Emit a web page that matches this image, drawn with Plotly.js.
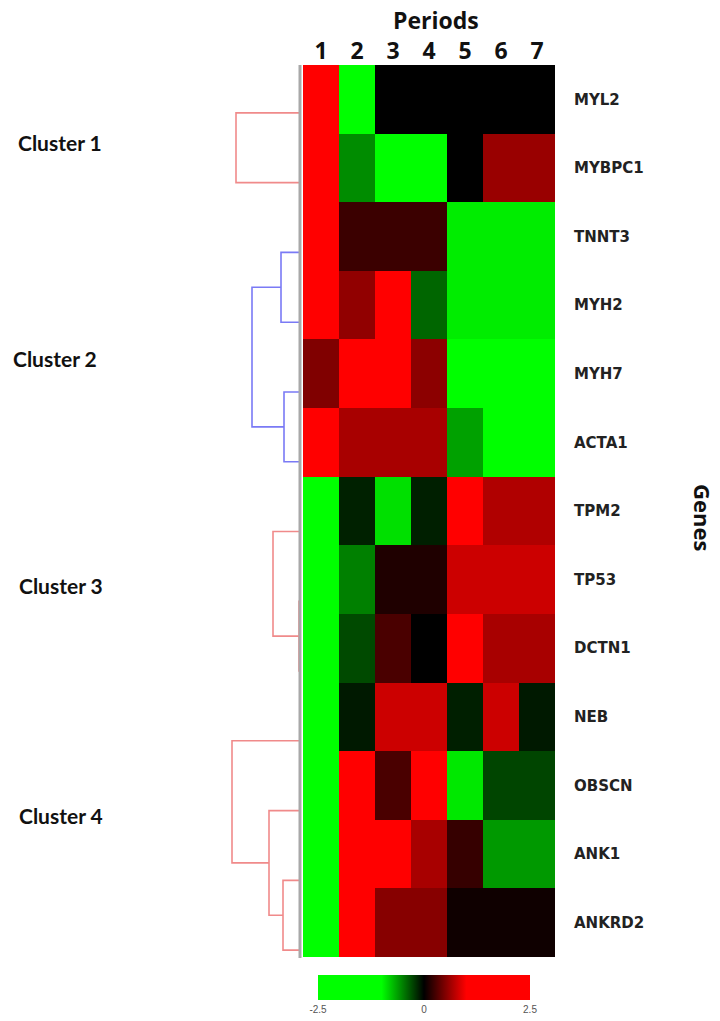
<!DOCTYPE html>
<html>
<head>
<meta charset="utf-8">
<script src="https://cdn.plot.ly/plotly-3.0.1.min.js"></script>
<style>html,body{margin:0;padding:0;background:#fff;}#chart{width:720px;height:1021px;}</style>
</head>
<body>
<div id="chart"></div>
<script>
// ---- data ----
const periods = [1, 2, 3, 4, 5, 6, 7];
const periodLabels = ['1', '2', '3', '4', '5', '6', '7'];
const genes = ['MYL2', 'MYBPC1', 'TNNT3', 'MYH2', 'MYH7', 'ACTA1', 'TPM2', 'TP53', 'DCTN1', 'NEB', 'OBSCN', 'ANK1', 'ANKRD2'];
const expr_MYL2   = [2.0, -2.0, 0.0, 0.0, 0.0, 0.0, 0.0];
const expr_MYBPC1 = [2.0, -0.55, -2.0, -2.0, 0.0, 0.6, 0.6];
const expr_TNNT3  = [2.0, 0.23, 0.23, 0.23, -0.93, -0.93, -0.93];
const expr_MYH2   = [2.0, 0.57, 2.0, -0.4, -0.93, -0.93, -0.93];
const expr_MYH7   = [0.5, 2.0, 2.0, 0.55, -2.0, -2.0, -2.0];
const expr_ACTA1  = [2.0, 0.66, 0.66, 0.66, -0.63, -2.0, -2.0];
const expr_TPM2   = [-2.0, -0.13, -0.88, -0.12, 2.0, 0.69, 0.69];
const expr_TP53   = [-2.0, -0.5, 0.12, 0.12, 0.8, 0.8, 0.8];
const expr_DCTN1  = [-2.0, -0.29, 0.29, 0.0, 2.0, 0.66, 0.66];
const expr_NEB    = [-2.0, -0.1, 0.8, 0.8, -0.12, 0.8, -0.1];
const expr_OBSCN  = [-2.0, 2.0, 0.29, 2.0, -0.91, -0.27, -0.27];
const expr_ANK1   = [-2.0, 2.0, 2.0, 0.66, 0.21, -0.6, -0.6];
const expr_ANKRD2 = [-2.0, 2.0, 0.53, 0.53, 0.06, 0.06, 0.06];
const colorbarTicks = [-2.5, 0, 2.5];
const colorbarTickText = ['-2.5', '0', '2.5'];

// dendrogram merges (leaf positions in gene order, child heights, merge height)
const clusterNames = ['Cluster 1', 'Cluster 2', 'Cluster 3', 'Cluster 4'];
const linkCluster = [0, 1, 1, 1, 2, 2, 3, 3, 3];
const linkYA = [0, 2, 4, 2.5, 7, 6, 11, 10, 9];
const linkYB = [1, 3, 5, 4.5, 8, 7.5, 12, 11.5, 10.75];
const linkHA = [0, 0, 0, 19, 0, 0, 0, 0, 0];
const linkHB = [0, 0, 0, 16, 0, 1, 0, 17, 31];
const linkH  = [64, 19, 16, 48, 1, 27, 17, 31, 68];

// ---- build ----
const z = [expr_MYL2, expr_MYBPC1, expr_TNNT3, expr_MYH2, expr_MYH7, expr_ACTA1,
           expr_TPM2, expr_TP53, expr_DCTN1, expr_NEB, expr_OBSCN, expr_ANK1, expr_ANKRD2];

const W = 720, H = 1021;
const px = v => v / W;
const py = v => 1 - v / H;

const heat = {
  type: 'heatmap',
  x: periods, y: genes, z: z,
  xaxis: 'x', yaxis: 'y',
  zmin: -2.5, zmax: 2.5,
  colorscale: [[0, '#00ff00'], [0.3, '#00ff00'], [0.5, '#000000'], [0.7, '#ff0000'], [1, '#ff0000']],
  showscale: true,
  hoverinfo: 'x+y+z',
  colorbar: {
    orientation: 'h',
    x: px(424), xanchor: 'center', xpad: 0,
    y: py(975), yanchor: 'top', ypad: 0,
    len: 212, lenmode: 'pixels',
    thickness: 25, thicknessmode: 'pixels',
    outlinewidth: 0,
    tickvals: colorbarTicks, ticktext: colorbarTickText,
    ticks: '', ticklen: 0,
    tickfont: {family: 'Liberation Sans, Arial, sans-serif', size: 10, color: '#555'}
  }
};

const clusterColors = ['#f08a8a', '#7a7af5', '#f08a8a', '#f08a8a'];
const dendroTraces = [];
for (let c = 0; c < clusterNames.length; c++) {
  const xs = [], ys = [];
  for (let i = 0; i < linkH.length; i++) {
    if (linkCluster[i] !== c) continue;
    xs.push(linkHA[i], linkH[i], linkH[i], linkHB[i], null);
    ys.push(linkYA[i], linkYA[i], linkYB[i], linkYB[i], null);
  }
  dendroTraces.push({
    type: 'scatter', mode: 'lines', x: xs, y: ys,
    xaxis: 'x2', yaxis: 'y2',
    line: {color: clusterColors[c], width: 1.6},
    hoverinfo: 'skip', showlegend: false
  });
}

const labelFont = {family: 'Lato, Open Sans, sans-serif', size: 21, color: '#111'};
const clusterLabelPos = [[60, 143], [55, 358], [61, 585], [61, 815]];
const annotations = clusterNames.map((n, i) => ({
  text: '<b>' + n + '</b>', xref: 'paper', yref: 'paper',
  x: px(clusterLabelPos[i][0]), y: py(clusterLabelPos[i][1]),
  xanchor: 'center', yanchor: 'middle', showarrow: false, font: labelFont
}));
annotations.push({
  text: '<b>Periods</b>', xref: 'paper', yref: 'paper',
  x: px(436), y: py(20), xanchor: 'center', yanchor: 'middle', showarrow: false,
  font: {family: 'Open Sans, sans-serif', size: 23, color: '#111'}
});
annotations.push({
  text: '<b>Genes</b>', xref: 'paper', yref: 'paper',
  x: px(703), y: py(517), xanchor: 'center', yanchor: 'middle', showarrow: false,
  textangle: 90,
  font: {family: 'Open Sans, sans-serif', size: 22, color: '#111'}
});

const layout = {
  width: W, height: H,
  margin: {l: 0, r: 0, t: 0, b: 0},
  paper_bgcolor: '#ffffff', plot_bgcolor: '#ffffff',
  showlegend: false,
  xaxis: {
    domain: [px(303), px(555)], anchor: 'y',
    range: [0.5, 7.5], side: 'top',
    tickvals: periods, ticktext: periodLabels,
    ticks: '', showgrid: false, zeroline: false, showline: false,
    ticklabelstandoff: 0,
    tickfont: {family: 'Open Sans, sans-serif', size: 23, color: '#111', weight: 'bold'},
    fixedrange: true
  },
  yaxis: {
    domain: [py(957), py(65)], anchor: 'x',
    autorange: 'reversed', side: 'right',
    ticks: '', showgrid: false, zeroline: false, showline: false,
    ticklabelstandoff: 18,
    tickfont: {family: 'DejaVu Sans, Verdana, sans-serif', size: 15, color: '#222', weight: 'bold'},
    fixedrange: true
  },
  xaxis2: {
    domain: [0, px(300)], anchor: 'y2', range: [300, 0],
    visible: false, fixedrange: true
  },
  yaxis2: {
    domain: [py(985), py(78)], anchor: 'x2', range: [12.5, -0.5],
    visible: false, fixedrange: true
  },
  shapes: [{
    type: 'line', xref: 'paper', yref: 'paper',
    x0: px(300), x1: px(300), y0: py(958), y1: py(65),
    line: {color: '#a8a8a8', width: 3}
  }],
  annotations: annotations
};

Plotly.newPlot('chart', [heat].concat(dendroTraces), layout, {displayModeBar: false, staticPlot: true});
</script>
</body>
</html>
